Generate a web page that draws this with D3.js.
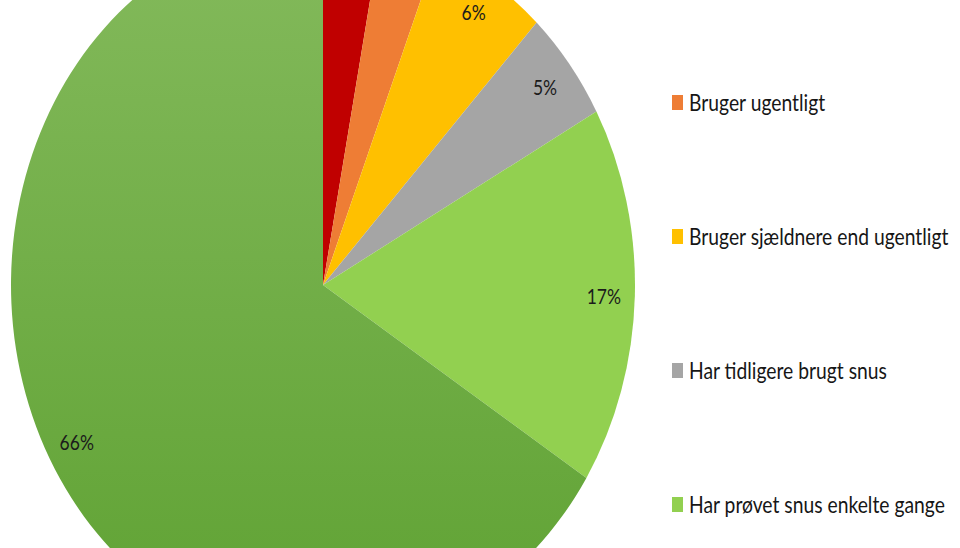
<!DOCTYPE html>
<html>
<head>
<meta charset="utf-8">
<script src="https://cdn.jsdelivr.net/npm/d3@7"></script>
<style>
  body { margin: 0; background: #fff; }
  svg { display: block; font-family: "Lato", "Open Sans", sans-serif; }
</style>
</head>
<body>
<div id="container"></div>
<script>
// data
var categories = ["Bruger dagligt", "Bruger ugentligt", "Bruger sjældnere end ugentligt",
                  "Har tidligere brugt snus", "Har prøvet snus enkelte gange", "Har aldrig prøvet snus"];
var values = [3, 3, 6, 5, 17, 66];
var colors = ["#c00000", "#ee7d35", "#ffc000", "#a5a5a5", "#92d050", "url(#darkGreen)"];
var legendColors = ["#c00000", "#ee7d35", "#ffc000", "#a5a5a5", "#92d050", "#70ad47"];

var width = 960;
var height = 548;
var cx = 323, cy = 285;
var radius = 312;
var stretch = 1.154;   // the original picture is squeezed, the pie is an ellipse
var labelRadius = 281;

var svg = d3.select("#container")
            .append("svg")
            .attr("width", width)
            .attr("height", height);

var grad = svg.append("defs")
              .append("linearGradient")
              .attr("id", "darkGreen")
              .attr("gradientUnits", "userSpaceOnUse")
              .attr("x1", 0).attr("y1", -radius)
              .attr("x2", 0).attr("y2", radius);
grad.append("stop").attr("offset", "0%").attr("stop-color", "#84ba5c");
grad.append("stop").attr("offset", "100%").attr("stop-color", "#5fa233");

var pie = d3.pie().sort(null).value(d => d);
var arcs = pie(values);

var arc = d3.arc().innerRadius(0).outerRadius(radius);
var labelArc = d3.arc().innerRadius(labelRadius).outerRadius(labelRadius);

var g = svg.append("g")
           .attr("transform", "translate(" + cx + "," + cy + ") scale(1," + stretch + ")");

g.selectAll("path")
 .data(arcs)
 .enter()
 .append("path")
 .attr("d", arc)
 .attr("fill", (d, i) => colors[i]);

// percent labels (not stretched); the two first lie above the cropped picture
var shown = arcs.filter(d => cy + labelArc.centroid(d)[1] * stretch > 0);

svg.selectAll("text.pct")
   .data(shown)
   .enter()
   .append("text")
   .attr("class", "pct")
   .attr("text-anchor", "middle")
   .attr("dominant-baseline", "central")
   .attr("transform", d => {
       var x = cx + labelArc.centroid(d)[0], y = cy + labelArc.centroid(d)[1] * stretch + 1;
       return "translate(" + x + "," + y + ") scale(1," + stretch + ")";
   })
   .style("font-size", "17.5px")
   .style("fill", "#1b1b1b")
   .text(d => d.data + "%");

// legend; first and last entry fall outside the cropped picture
var legendY = d3.scalePoint()
                .domain(categories)
                .range([-32, 638]);

var legendShown = categories.filter(c => legendY(c) > 0 && legendY(c) < height);

var legend = svg.selectAll("g.legend")
                .data(legendShown)
                .enter()
                .append("g")
                .attr("class", "legend")
                .attr("transform", d => "translate(672," + legendY(d) + ")");

legend.append("rect")
      .attr("x", 0)
      .attr("y", -7)
      .attr("width", 11)
      .attr("height", 15)
      .attr("fill", d => legendColors[categories.indexOf(d)]);

legend.append("text")
      .attr("x", 17)
      .attr("y", 0)
      .attr("dominant-baseline", "central")
      .attr("transform", "scale(1," + stretch + ")")
      .style("font-size", "19.3px")
      .style("fill", "#161616")
      .text(d => d);
</script>
</body>
</html>
